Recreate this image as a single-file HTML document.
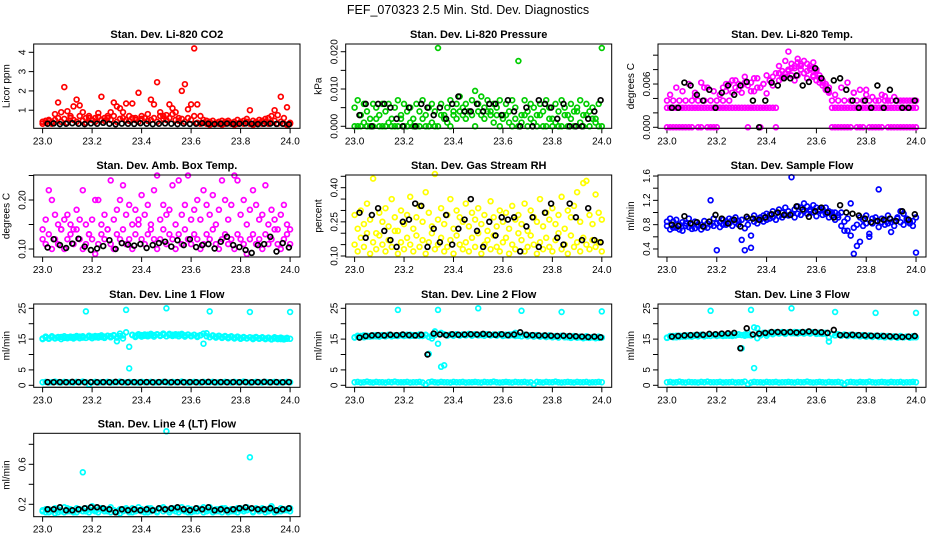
<!DOCTYPE html>
<html><head><meta charset="utf-8"><style>
html,body{margin:0;padding:0;background:#fff;}
svg{display:block;font-family:"Liberation Sans",Arial,sans-serif;}
</style></head><body>
<svg id="chart" width="936" height="540" viewBox="0 0 936 540" xmlns="http://www.w3.org/2000/svg">
<rect width="936" height="540" fill="#fff"/>
<text x="468" y="14" text-anchor="middle" font-size="12.5">FEF_070323  2.5 Min. Std. Dev. Diagnostics</text>
</svg>
<script>
const tDense=[23,23.0125,23.025,23.0375,23.05,23.0625,23.075,23.0875,23.1,23.1125,23.125,23.1375,23.15,23.1625,23.175,23.1875,23.2,23.2125,23.225,23.2375,23.25,23.2625,23.275,23.2875,23.3,23.3125,23.325,23.3375,23.35,23.3625,23.375,23.3875,23.4,23.4125,23.425,23.4375,23.45,23.4625,23.475,23.4875,23.5,23.5125,23.525,23.5375,23.55,23.5625,23.575,23.5875,23.6,23.6125,23.625,23.6375,23.65,23.6625,23.675,23.6875,23.7,23.7125,23.725,23.7375,23.75,23.7625,23.775,23.7875,23.8,23.8125,23.825,23.8375,23.85,23.8625,23.875,23.8875,23.9,23.9125,23.925,23.9375,23.95,23.9625,23.975,23.9875,24];
const tRef=[23.02,23.045,23.07,23.095,23.12,23.145,23.17,23.195,23.22,23.245,23.27,23.295,23.32,23.345,23.37,23.395,23.42,23.445,23.47,23.495,23.52,23.545,23.57,23.595,23.62,23.645,23.67,23.695,23.72,23.745,23.77,23.795,23.82,23.845,23.87,23.895,23.92,23.945,23.97,23.995];
const xTicks=[23.0,23.2,23.4,23.6,23.8,24.0];
const xTickLabels=["23.0","23.2","23.4","23.6","23.8","24.0"];

const co2Main=[0.4,0.45,0.5,0.4,0.8,1.4,0.9,2.2,0.95,0.7,1.2,1.55,1.25,0.9,0.6,0.7,0.5,0.6,0.85,1.7,0.6,0.7,0.9,1.4,1.2,1.1,0.9,1.35,0.7,1.35,0.6,1.9,0.7,0.6,0.8,1.55,1.3,2.45,0.9,0.7,0.75,1.3,1.1,0.9,0.6,2.0,2.35,1.05,1.3,4.2,1.3,0.7,0.5,0.45,0.4,0.45,0.35,0.4,0.45,0.4,0.45,0.35,0.4,0.5,0.4,0.45,0.55,1.0,0.45,0.4,0.5,0.45,0.55,0.6,0.7,1.0,0.75,1.7,0.6,1.15,0.35];
const co2Low=[0.3,0.35,0.45,0.3,0.5,0.6,0.4,0.55,0.35,0.6,0.5,0.4,0.7,0.45,0.35,0.6,0.5,0.4,0.65,0.5,0.45,0.6,0.5,0.7,0.4,0.55,0.6,0.5,0.45,0.6,0.5,0.4,0.55,0.6,0.45,0.5,0.6,0.4,0.7,0.55,0.5,0.6,0.8,0.5,0.45,0.55,0.4,0.6,0.5,0.7,0.35,0.3,0.35,0.3,0.25,0.3,0.35,0.3,0.25,0.3,0.35,0.3,0.25,0.3,0.35,0.3,0.4,0.3,0.25,0.3,0.35,0.3,0.4,0.3,0.35,0.45,0.3,0.4,0.3,0.25,0.3];
const co2Ref=[0.3,0.32,0.28,0.3,0.33,0.3,0.28,0.32,0.3,0.35,0.3,0.27,0.31,0.3,0.29,0.33,0.3,0.28,0.3,0.32,0.3,0.28,0.31,0.29,0.3,0.33,0.3,0.28,0.3,0.31,0.29,0.3,0.32,0.3,0.28,0.3,0.31,0.29,0.3,0.27];

const presMain=[0.005,0.007,0.003,0.006,0.004,0.002,0.006,0.005,0.003,0.006,0.004,0.006,0.002,0.005,0.007,0.003,0.006,0.004,0.005,0.002,0.006,0.004,0.007,0.003,0.005,0.006,0.004,0.021,0.006,0.003,0.005,0.007,0.004,0.006,0.008,0.005,0.006,0.004,0.007,0.0095,0.006,0.008,0.005,0.007,0.004,0.006,0.005,0.007,0.003,0.006,0.004,0.007,0.005,0.0175,0.003,0.007,0.004,0.006,0.005,0.003,0.006,0.004,0.007,0.005,0.002,0.006,0.004,0.007,0.005,0.003,0.006,0.004,0.005,0.007,0.003,0.006,0.004,0.005,0.002,0.006,0.021];
const presLow=[0,0,0,0.001,0,0,0,0.002,0,0,0,0.001,0,0,0,0.002,0,0,0.001,0,0,0,0.002,0,0,0.001,0,0,0.003,0.002,0.001,0,0.003,0.002,0.004,0.003,0.002,0.004,0.003,0,0.004,0.003,0.002,0.004,0.003,0.001,0.003,0,0.002,0.003,0.001,0,0.002,0,0.001,0.003,0,0.002,0.001,0,0.003,0,0,0.002,0,0.001,0,0,0.003,0,0.002,0,0.004,0.001,0,0.003,0,0.002,0.001,0,0];
const presRef=[0.003,0.006,0,0.006,0.006,0.005,0.002,0,0.005,0,0.006,0.005,0.003,0.005,0.002,0.006,0.008,0.004,0.004,0.006,0.004,0.006,0.006,0.003,0.007,0.004,0,0.005,0,0.007,0.006,0.005,0.002,0.006,0,0,0,0.002,0.004,0.007];

const tempBandA=[0.0027,0.0027,0.0027,0.0027,0.0027,0.0027,0.0027,0.0027,0.0027,0.0027,0.0027,0.0027,0.0027,0.0027,0.0027,0.0027,0.0027,0.0027,0.0027,0.0027,0.0027,0.0027,0.0027,0.0027,0.0027,0.0027,0.0027,0.0027,0.0027,0.0027,0.0027,0.0027,0.0027,0.0027,0.0027,0.0027,0.0065,0.007,0.0075,0.008,0.0072,0.0085,0.009,0.008,0.0075,0.0088,0.0082,0.007,0.0078,0.0068,0.0062,0.0057,0.0055,0.0027,0.0027,0.0027,0.0027,0.0027,0.0027,0.0027,0.0027,0.0027,0.0027,0.0027,0.0027,0.0027,0.0027,0.0027,0.0027,0.0027,0.0027,0.0027,0.0027,0.0027,0.0027,0.0027,0.0027,0.0027,0.0027,0.0027,0.0027];
const tempBandB=[0.0037,0.0045,0.0037,0.0055,0.0037,0.005,0.0037,0.006,0.0037,0.0048,0.0037,0.0062,0.0037,0.0055,0.0037,0.005,0.0037,0.0045,0.0037,0.006,0.0037,0.0065,0.0055,0.006,0.0048,0.007,0.0058,0.0062,0.005,0.0068,0.0055,0.006,0.0072,0.0065,0.0058,0.0075,0.0085,0.0078,0.0092,0.0105,0.0088,0.0082,0.0095,0.0088,0.0092,0.0078,0.0085,0.009,0.008,0.0072,0.0065,0.006,0.005,0.0037,0.0045,0.0037,0.0055,0.0037,0.0062,0.0037,0.0048,0.0037,0.0052,0.0037,0.0045,0.0037,0.0042,0.0037,0.0037,0.0045,0.0037,0.0037,0.0037,0.0042,0.0037,0.0037,0.0037,0.0037,0.0037,0.0037,0.0037];
const tempBandC=[0,0,0,0,0,0,0,0,0,0.0043,0,0,0.0055,0,0,0,0,0.0045,0.0055,0.005,0.006,0.0048,0.0065,0.0052,0.0058,0.0062,0,0.005,0.0068,0.0055,0,0.006,0.0047,0.0065,0.007,0,0.0075,0.0068,0.007,0.0078,0.0082,0.0065,0.0072,0.0085,0.0075,0.0068,0.008,0.0072,0.0065,0.0062,0.0058,0.0052,0.0048,0,0,0,0,0,0,0,0.0048,0,0,0,0.0052,0,0,0,0,0,0.0043,0,0,0,0,0,0,0,0,0,0];
const tempRef=[0.0027,0.0027,0.0062,0.0058,0.0045,0.0037,0.0052,0.0027,0.0048,0.0058,0.0045,0.0058,0.0063,0.0037,0,0.0037,0.0062,0.0058,0.0068,0.0068,0.0072,0.0058,0.0063,0.0082,0.0068,0.0052,0.0065,0.0068,0.0052,0.0037,0.0027,0.0037,0.0027,0.0058,0.0027,0.0052,0.0037,0.0027,0.0027,0.0037];

const ambMain=[0.14,0.16,0.22,0.2,0.17,0.15,0.14,0.16,0.17,0.15,0.14,0.18,0.16,0.22,0.15,0.13,0.16,0.2,0.2,0.15,0.17,0.14,0.24,0.16,0.18,0.2,0.23,0.17,0.19,0.15,0.18,0.16,0.21,0.17,0.19,0.15,0.22,0.25,0.16,0.19,0.17,0.18,0.23,0.15,0.24,0.17,0.19,0.25,0.16,0.18,0.2,0.16,0.22,0.19,0.17,0.21,0.15,0.18,0.24,0.2,0.16,0.19,0.25,0.24,0.17,0.2,0.15,0.18,0.22,0.19,0.16,0.17,0.23,0.15,0.18,0.16,0.14,0.17,0.19,0.15,0.14];
const ambLow=[0.12,0.11,0.13,0.1,0.12,0.11,0.14,0.1,0.12,0.13,0.11,0.14,0.12,0.1,0.11,0.13,0.12,0.09,0.11,0.13,0.12,0.14,0.11,0.1,0.13,0.12,0.14,0.11,0.12,0.1,0.13,0.15,0.12,0.11,0.13,0.14,0.12,0.1,0.12,0.14,0.11,0.13,0.12,0.1,0.13,0.11,0.14,0.12,0.11,0.13,0.12,0.1,0.11,0.13,0.12,0.14,0.11,0.1,0.12,0.13,0.11,0.12,0.1,0.13,0.12,0.11,0.09,0.12,0.13,0.11,0.12,0.1,0.13,0.11,0.12,0.14,0.11,0.1,0.12,0.13,0.11];
const ambRef=[0.103,0.12,0.108,0.102,0.111,0.121,0.105,0.098,0.101,0.106,0.118,0.1,0.112,0.109,0.107,0.11,0.102,0.108,0.112,0.115,0.105,0.118,0.108,0.12,0.104,0.108,0.11,0.101,0.115,0.125,0.108,0.104,0.098,0.092,0.108,0.11,0.125,0.095,0.112,0.103];

const rhMain=[0.28,0.22,0.3,0.24,0.33,0.26,0.44,0.2,0.29,0.25,0.31,0.23,0.35,0.27,0.21,0.3,0.24,0.28,0.36,0.22,0.27,0.32,0.25,0.38,0.29,0.23,0.46,0.26,0.31,0.24,0.28,0.35,0.22,0.3,0.27,0.25,0.33,0.23,0.29,0.26,0.31,0.24,0.28,0.21,0.34,0.27,0.23,0.3,0.25,0.29,0.22,0.32,0.26,0.28,0.24,0.33,0.21,0.3,0.27,0.25,0.35,0.23,0.29,0.26,0.31,0.24,0.28,0.36,0.22,0.3,0.27,0.32,0.38,0.25,0.42,0.43,0.28,0.24,0.37,0.29,0.26];
const rhLow=[0.15,0.12,0.18,0.14,0.2,0.11,0.16,0.13,0.19,0.15,0.12,0.17,0.14,0.21,0.11,0.16,0.13,0.18,0.15,0.12,0.19,0.14,0.17,0.11,0.16,0.2,0.13,0.15,0.18,0.12,0.14,0.17,0.11,0.19,0.15,0.13,0.16,0.12,0.18,0.14,0.2,0.11,0.15,0.17,0.13,0.19,0.14,0.12,0.16,0.18,0.11,0.15,0.13,0.2,0.17,0.12,0.14,0.19,0.15,0.11,0.16,0.13,0.18,0.14,0.12,0.17,0.2,0.13,0.15,0.11,0.19,0.14,0.16,0.12,0.18,0.15,0.13,0.17,0.14,0.16,0.12];
const rhRef=[0.29,0.18,0.28,0.31,0.21,0.17,0.14,0.25,0.26,0.33,0.32,0.14,0.22,0.16,0.28,0.15,0.22,0.26,0.35,0.21,0.14,0.25,0.19,0.27,0.26,0.27,0.12,0.23,0.27,0.14,0.29,0.33,0.18,0.15,0.33,0.27,0.17,0.31,0.17,0.16];

const flowMain=[0.78,0.72,0.85,0.75,0.8,0.7,0.82,0.76,0.8,0.74,0.78,0.8,0.76,0.82,1.2,0.78,0.38,0.84,0.8,0.86,0.82,0.88,0.84,0.86,0.55,0.38,0.9,0.42,0.85,0.9,0.92,0.95,0.88,0.96,0.92,0.98,0.94,1.0,0.96,1.02,1.58,1.05,0.98,1.08,1.02,1.1,1.05,1.0,1.08,1.03,1.06,0.98,1.02,0.95,1.0,0.92,0.78,0.85,0.7,1.15,0.32,0.45,0.52,0.88,0.82,0.65,0.9,0.86,1.38,0.84,0.88,0.82,0.68,0.86,0.9,0.84,0.98,0.88,0.82,0.86,0.34];
const flowLow=[0.85,0.9,0.75,0.88,0.72,0.84,0.78,0.9,0.73,0.85,0.8,0.72,0.86,0.75,0.8,0.9,0.82,0.76,0.88,0.8,0.9,0.78,0.92,0.8,0.88,0.74,0.8,0.62,0.95,0.82,0.88,0.85,0.98,0.9,1.02,0.88,1.05,0.92,1.08,0.95,0.98,0.92,1.1,0.96,1.15,0.98,1.02,1.12,0.94,1.05,0.96,1.08,0.92,1.0,0.88,0.96,1.0,0.7,0.9,0.62,0.75,0.8,0.92,0.78,0.95,0.6,0.82,0.92,0.76,0.9,0.8,0.95,0.84,0.78,0.92,1.02,0.8,0.9,0.85,0.78,0.92];
const flowRef=[0.8,0.78,0.94,0.82,0.84,0.77,0.85,0.96,0.9,0.82,0.88,0.77,0.93,0.9,0.88,0.92,0.97,1.0,0.96,0.96,1.1,1.05,0.93,1.02,1.08,1.0,0.92,1.12,1.0,0.98,0.95,0.9,0.84,0.86,0.88,0.9,0.86,1.02,0.88,0.97];

const line1Main=[15.2,15.5,15.3,15.6,15.4,15.5,15.7,15.4,15.6,15.5,15.7,15.6,15.8,15.5,24.0,15.7,15.8,15.6,15.9,15.7,15.8,16.0,15.9,16.1,14.3,16.0,16.2,24.5,12.5,16.3,16.1,16.2,16.3,16.1,16.4,16.2,16.3,16.5,16.2,16.4,25.0,16.3,16.4,16.2,16.5,16.3,16.2,16.4,16.1,16.3,16.0,16.2,16.8,15.9,24.0,16.0,15.8,15.9,15.7,15.8,15.6,15.7,15.5,15.6,15.4,15.5,15.3,23.8,15.4,15.5,15.3,15.4,15.2,15.3,15.1,15.2,15.3,15.0,15.2,15.1,23.8];
const line1Band=[15.0,15.8,15.1,15.9,15.2,15.7,15.0,15.9,15.3,15.8,15.2,16.0,15.3,15.9,15.4,16.1,15.3,16.0,15.5,16.2,15.4,16.1,15.6,16.3,15.5,16.8,15.2,17.2,5.5,16.4,15.7,16.6,15.8,16.5,15.9,16.7,15.8,16.6,16.0,16.8,15.9,16.7,16.0,16.6,15.9,16.7,15.8,16.5,15.9,16.4,15.7,16.3,13.5,16.9,15.6,16.2,15.5,16.1,15.4,16.0,15.3,15.9,15.2,15.8,15.1,15.7,15.2,15.6,15.0,15.7,15.1,15.6,15.0,15.5,14.9,15.6,15.0,15.5,14.9,15.4,15.1];
const line1Low=[1.0,1.1,0.9,1.0,1.2,1.0,0.9,1.1,1.0,1.0,0.9,1.1,1.0,1.2,1.0,0.3,1.0,1.1,0.9,1.0,1.0,1.1,0.9,1.0,1.0,1.2,1.0,0.9,1.1,1.0,1.0,0.9,1.1,1.0,1.0,1.1,0.9,1.0,1.0,1.1,1.0,0.9,1.1,1.0,1.0,1.2,1.0,0.9,1.0,1.1,1.0,0.9,1.1,1.0,1.0,1.1,0.9,1.0,1.0,1.1,1.0,0.9,1.1,1.0,1.0,1.2,1.0,0.9,1.0,1.1,1.0,0.9,1.1,1.0,1.0,1.1,0.9,1.0,1.0,1.1,1.0];
const line1Ref=[1.05,1.0,1.05,1.0,1.1,1.05,1.0,1.05,1.0,1.05,1.0,1.1,1.05,1.0,1.05,1.0,1.05,1.0,1.05,1.1,1.0,1.05,1.0,1.05,1.0,1.05,1.1,1.0,1.05,1.0,1.05,1.0,1.05,1.0,1.05,1.1,1.0,1.05,1.0,1.05];

const line2Main=[15.5,15.8,16.0,15.6,16.1,15.8,16.2,15.9,16.0,16.3,15.9,16.2,16.0,16.1,24.5,16.3,16.0,16.2,16.4,16.1,16.3,16.0,16.2,16.4,10.2,16.1,16.3,24.5,6.0,6.5,16.2,16.4,16.1,16.5,16.2,16.4,16.3,16.6,16.2,16.5,25.0,16.3,16.6,16.4,16.2,16.5,16.3,16.6,16.4,16.2,16.5,16.3,17.0,16.1,24.2,16.3,16.0,16.2,15.9,16.1,15.8,16.0,15.7,15.9,15.6,15.8,15.5,23.8,15.7,15.6,15.4,15.7,15.5,15.6,15.3,15.5,15.4,15.6,15.3,15.4,24.0];
const line2Band=[15.6,16.1,15.7,16.2,15.8,16.0,15.9,16.3,15.8,16.1,16.0,16.4,15.9,16.2,16.0,16.3,16.1,16.4,16.0,16.3,16.1,16.5,16.0,16.3,15.7,15.2,17.5,13.5,17.0,16.6,16.1,16.5,16.2,16.6,16.1,16.5,16.2,16.7,16.1,16.6,16.2,16.5,16.1,16.6,16.2,16.4,16.1,16.5,16.0,16.4,16.1,16.5,16.0,16.3,15.9,16.4,15.9,16.2,15.8,16.3,15.8,16.1,15.7,16.2,15.7,16.0,15.6,16.1,15.6,15.9,15.5,16.0,15.5,15.8,15.4,15.9,15.5,15.7,15.4,15.8,15.5];
const line2Low=[1.0,1.1,0.9,1.0,1.2,1.0,0.9,1.1,1.0,1.0,0.9,1.1,1.0,1.2,1.0,1.0,1.0,1.1,0.9,1.0,1.0,1.1,0.9,0.3,1.0,1.2,1.0,0.9,1.1,1.0,1.0,0.9,1.1,1.0,1.0,1.1,0.9,1.0,1.0,1.1,1.0,0.9,1.1,1.0,1.0,1.2,1.0,0.9,1.0,1.1,1.0,0.9,1.1,1.0,1.0,1.1,0.9,1.0,0.4,1.1,1.0,0.9,1.1,1.0,1.0,1.2,1.0,0.9,1.0,1.1,1.0,0.9,1.1,1.0,1.0,1.1,0.9,1.0,1.0,1.1,1.0];
const line2Ref=[15.5,16.0,16.2,16.3,16.2,16.4,16.3,16.5,16.3,16.2,16.4,10.0,16.8,16.5,16.3,16.6,16.4,16.5,16.6,16.5,16.7,16.5,16.4,16.6,16.3,16.5,17.2,16.4,16.3,16.2,16.2,16.1,16.0,16.1,16.0,15.9,15.8,15.7,15.8,15.6];

const line3Main=[15.5,15.8,16.0,15.6,16.1,15.8,16.2,15.9,16.0,16.3,15.9,16.2,16.0,16.1,24.2,16.3,16.0,16.2,16.4,16.1,16.3,16.0,16.2,16.4,12.0,16.1,16.3,24.5,5.6,18.5,16.2,16.8,16.1,16.9,16.6,17.0,16.8,17.1,16.7,17.2,25.0,16.9,17.2,17.0,16.8,17.3,16.9,17.2,17.0,16.8,17.1,16.8,14.2,16.6,23.8,16.5,16.2,16.4,16.1,16.3,16.0,16.2,15.9,16.1,15.8,16.0,15.7,23.5,15.9,15.8,15.6,15.9,15.7,15.8,15.5,15.7,15.6,15.8,15.5,15.6,23.5];
const line3Band=[15.4,16.0,15.6,16.1,15.7,16.0,15.8,16.2,15.8,16.1,16.0,16.4,15.9,16.2,16.0,16.3,16.1,16.4,16.0,16.3,16.1,16.5,16.2,16.6,16.3,16.5,17.0,16.2,18.8,15.3,16.6,17.0,16.7,17.1,16.8,17.2,16.9,17.3,16.8,17.2,16.9,17.3,16.8,17.2,16.9,17.1,16.8,17.2,16.7,17.1,16.7,17.0,15.5,16.5,16.2,16.6,16.1,16.5,16.0,16.4,16.0,16.3,15.9,16.3,15.8,16.2,15.8,16.1,15.7,16.1,15.6,16.0,15.6,15.9,15.5,16.0,15.6,15.8,15.5,15.9,15.6];
const line3Low=[1.0,1.1,0.9,1.0,1.2,1.0,0.9,1.1,1.0,1.0,0.9,1.1,1.0,1.2,1.0,1.0,1.0,1.1,0.9,1.0,1.0,1.1,0.9,1.0,1.0,1.2,0.4,0.9,1.1,1.0,1.0,0.9,1.1,1.0,1.0,1.1,0.9,1.0,1.0,1.1,1.0,0.9,1.1,1.0,1.0,1.2,1.0,0.9,1.0,1.1,1.0,0.9,1.1,1.0,1.0,1.1,0.9,0.4,1.0,1.1,1.0,0.9,1.1,1.0,1.0,1.2,1.0,0.9,1.0,1.1,1.0,0.9,1.1,1.0,1.0,1.1,0.9,1.0,1.0,1.1,1.0];
const line3Ref=[15.8,16.0,16.2,16.3,16.4,16.4,16.7,16.6,16.8,16.9,17.0,12.0,18.5,16.5,16.8,17.0,17.3,17.3,17.2,17.3,17.1,17.3,17.5,17.3,17.2,17.0,18.0,16.3,16.3,16.4,16.3,16.2,16.1,16.1,16.0,15.9,15.8,15.7,15.8,16.0];

const line4Main=[0.14,0.12,0.15,0.13,0.16,0.12,0.14,0.17,0.13,0.15,0.12,0.16,0.14,0.52,0.13,0.15,0.18,0.14,0.12,0.16,0.15,0.13,0.17,0.14,0.12,0.15,0.13,0.16,0.14,0.12,0.15,0.17,0.13,0.14,0.12,0.16,0.14,0.13,0.15,0.17,0.93,0.14,0.16,0.13,0.15,0.17,0.14,0.12,0.15,0.13,0.16,0.14,0.12,0.15,0.17,0.14,0.13,0.15,0.16,0.14,0.12,0.15,0.13,0.16,0.14,0.15,0.17,0.67,0.13,0.15,0.14,0.16,0.12,0.15,0.18,0.14,0.13,0.16,0.14,0.15,0.16];
const line4Band=[0.13,0.15,0.12,0.14,0.11,0.15,0.13,0.12,0.16,0.13,0.14,0.12,0.15,0.13,0.16,0.12,0.14,0.13,0.15,0.16,0.13,0.15,0.12,0.14,0.13,0.11,0.15,0.14,0.12,0.16,0.13,0.14,0.15,0.12,0.16,0.13,0.14,0.12,0.16,0.13,0.15,0.12,0.14,0.16,0.12,0.14,0.13,0.16,0.12,0.14,0.13,0.15,0.17,0.13,0.14,0.12,0.15,0.13,0.12,0.16,0.14,0.13,0.15,0.12,0.16,0.13,0.14,0.15,0.12,0.16,0.13,0.14,0.15,0.13,0.16,0.12,0.14,0.13,0.15,0.14,0.13];
const line4Ref=[0.15,0.15,0.17,0.14,0.14,0.15,0.16,0.17,0.17,0.16,0.15,0.12,0.15,0.14,0.15,0.14,0.15,0.14,0.16,0.15,0.16,0.17,0.15,0.14,0.16,0.15,0.17,0.14,0.15,0.14,0.15,0.16,0.17,0.16,0.15,0.15,0.16,0.14,0.15,0.16];

const NS="http://www.w3.org/2000/svg";
const svg=document.getElementById('chart');
const colL=[33.7,345.7,658], colR=[300,611.7,926];
const rowT=[44,175,304,433.3], rowB=[128.3,257,387.3,516.7];
const xDom=[22.964,24.04];

const panels=[
 {id:'co2',title:'Stan. Dev. Li-820 CO2',ylab:'Licor ppm',c:0,r:0,dom:[0.064,4.43],ticks:[1,2,3,4],tl:['1','2','3','4'],col:'#ff0000',series:[co2Main,co2Low],ref:co2Ref},
 {id:'pressure',title:'Stan. Dev. Li-820 Pressure',ylab:'kPa',c:1,r:0,dom:[-0.00054,0.02207],ticks:[0,0.005,0.01,0.015,0.02],tl:['0.000','','0.010','','0.020'],col:'#00cd00',series:[presMain,presLow],ref:presRef},
 {id:'temp',title:'Stan. Dev. Li-820 Temp.',ylab:'degrees C',c:2,r:0,dom:[-0.00014,0.01155],ticks:[0,0.002,0.004,0.006,0.008,0.01],tl:['0.000','','','0.006','',''],col:'#ff00ff',series:[tempBandA,tempBandB,tempBandC],ref:tempRef},
 {id:'ambbox',title:'Stan. Dev. Amb. Box Temp.',ylab:'degrees C',c:0,r:1,dom:[0.0837,0.251],ticks:[0.1,0.15,0.2,0.25],tl:['0.10','','0.20',''],col:'#ff00ff',series:[ambMain,ambLow],ref:ambRef},
 {id:'rh',title:'Stan. Dev. Gas Stream RH',ylab:'percent',c:1,r:1,dom:[0.0956,0.4557],ticks:[0.1,0.15,0.2,0.25,0.3,0.35,0.4,0.45],tl:['0.10','','','0.25','','','0.40',''],col:'#ffff00',series:[rhMain,rhLow],ref:rhRef},
 {id:'sampleflow',title:'Stan. Dev. Sample Flow',ylab:'ml/min',c:2,r:1,dom:[0.268,1.617],ticks:[0.4,0.6,0.8,1.0,1.2,1.4,1.6],tl:['0.4','','0.8','','1.2','','1.6'],col:'#0000ff',series:[flowMain,flowLow],ref:flowRef},
 {id:'line1',title:'Stan. Dev. Line 1 Flow',ylab:'ml/min',c:0,r:2,dom:[-0.65,26.4],ticks:[0,5,10,15,20,25],tl:['0','5','','15','','25'],col:'#00ffff',series:[line1Low,line1Main,line1Band],ref:line1Ref},
 {id:'line2',title:'Stan. Dev. Line 2 Flow',ylab:'ml/min',c:1,r:2,dom:[-0.65,26.4],ticks:[0,5,10,15,20,25],tl:['0','5','','15','','25'],col:'#00ffff',series:[line2Low,line2Main,line2Band],ref:line2Ref},
 {id:'line3',title:'Stan. Dev. Line 3 Flow',ylab:'ml/min',c:2,r:2,dom:[-0.65,26.4],ticks:[0,5,10,15,20,25],tl:['0','5','','15','','25'],col:'#00ffff',series:[line3Low,line3Main,line3Band],ref:line3Ref},
 {id:'line4',title:'Stan. Dev. Line 4 (LT) Flow',ylab:'ml/min',c:0,r:3,dom:[0.076,0.91],ticks:[0.2,0.4,0.6,0.8],tl:['0.2','','0.6',''],col:'#00ffff',series:[line4Main,line4Band],ref:line4Ref}
];

function mk(tag,attrs,parent){const e=document.createElementNS(NS,tag);for(const k in attrs)e.setAttribute(k,attrs[k]);parent.appendChild(e);return e;}

panels.forEach(p=>{
  const L=colL[p.c],R=colR[p.c],T=rowT[p.r],B=rowB[p.r];
  const xs=v=>L+(v-xDom[0])/(xDom[1]-xDom[0])*(R-L);
  const ys=v=>B-(v-p.dom[0])/(p.dom[1]-p.dom[0])*(B-T);
  const g=mk('g',{},svg);
  
  
  const t=mk('text',{x:(L+R)/2,y:T-6,'text-anchor':'middle','font-size':'11','font-weight':'bold'},g);
  t.textContent=p.title;
  
  
  const yl=mk('text',{transform:`translate(${L-24},${(T+B)/2}) rotate(-90)`,'text-anchor':'middle','font-size':'10'},g);
  yl.textContent=p.ylab;
  
  
  const xa=mk('g',{},g);
  
  
  mk('line',{x1:xs(xTicks[0]),x2:xs(xTicks[xTicks.length-1]),y1:B,y2:B,stroke:'#000'},xa);
  xTicks.forEach((v,i)=>{
    mk('line',{x1:xs(v),x2:xs(v),y1:B,y2:B+5,stroke:'#000'},xa);
    const tx=mk('text',{x:xs(v),y:B+16,'text-anchor':'middle','font-size':'10'},xa);
    tx.textContent=xTickLabels[i];
  });
  const ya=mk('g',{},g);
  
  
  p.ticks.forEach((v,i)=>{
    mk('line',{x1:L-5,x2:L,y1:ys(v),y2:ys(v),stroke:'#000'},ya);
    if(p.tl[i]){const tx=mk('text',{transform:`translate(${L-8},${ys(v)}) rotate(-90)`,'text-anchor':'middle','font-size':'10'},ya);tx.textContent=p.tl[i];}
  });
  const pts=mk('g',{fill:'none','stroke-width':'1.7'},g);
  
  
  p.series.forEach(arr=>{
    arr.forEach((v,i)=>{mk('circle',{cx:xs(tDense[i]).toFixed(1),cy:ys(v).toFixed(1),r:'2.4',stroke:p.col},pts);});
  });
  const rp=mk('g',{fill:'none','stroke-width':'1.7'},g);
  
  
  p.ref.forEach((v,i)=>{mk('circle',{cx:xs(tRef[i]).toFixed(1),cy:ys(v).toFixed(1),r:'2.4',stroke:'#000'},rp);});
  const bx=mk('rect',{x:L,y:T,width:R-L,height:B-T,fill:'none',stroke:'#000'},g);
  
  
});
</script>
</body></html>
